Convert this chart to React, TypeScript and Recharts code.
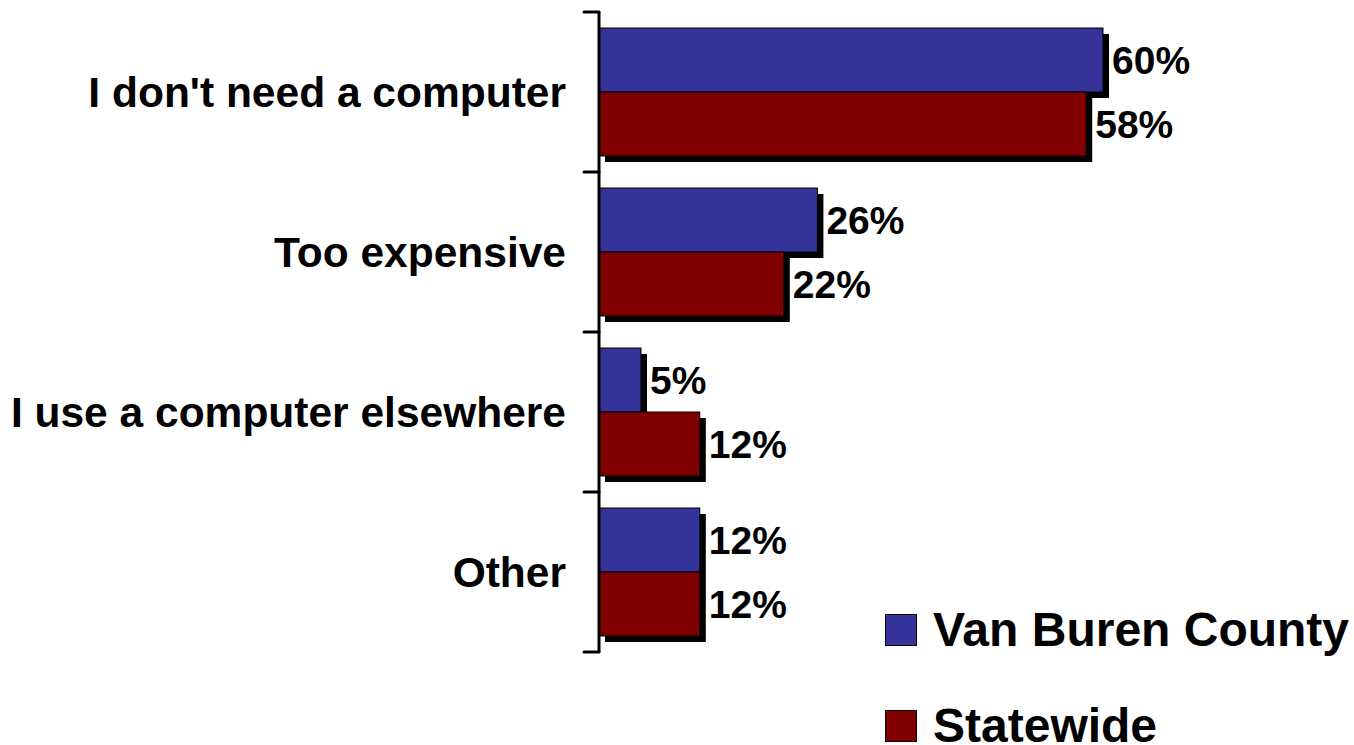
import { BarChart, Bar, XAxis, YAxis, LabelList } from "recharts"

const categories = [
  "I don't need a computer",
  "Too expensive",
  "I use a computer elsewhere",
  "Other",
]
const vanBuren = [60, 26, 5, 12]
const statewide = [58, 22, 12, 12]

const seriesNames = ["Van Buren County", "Statewide"]
const seriesColors = ["#333399", "#800000"]

const data = categories.map((c, i) => ({
  reason: c,
  vanBuren: vanBuren[i],
  statewide: statewide[i],
}))

const FONT = "Arial, 'Liberation Sans', Helvetica, sans-serif"
const SHADOW = 6

const ShadowBar = (props: any) => {
  const { x, y, width, height, fill } = props
  if (!width || !height) return null
  return (
    <g>
      <rect x={x + SHADOW} y={y + SHADOW} width={width} height={height} fill="#000" />
      <rect x={x} y={y} width={width} height={height} fill={fill} stroke="#000" strokeWidth={1} />
    </g>
  )
}

const CategoryTick = (props: any) => {
  const { x, y, payload, index, visibleTicksCount } = props
  const half = payload?.offset ?? 80
  const last = index === (visibleTicksCount ?? categories.length) - 1
  return (
    <g>
      <line x1={x - 15} y1={y - half} x2={x} y2={y - half} stroke="#000" strokeWidth={3} strokeLinecap="round" />
      {last && (
        <line x1={x - 15} y1={y + half} x2={x} y2={y + half} stroke="#000" strokeWidth={3} strokeLinecap="round" />
      )}
      <text
        x={x - 33}
        y={y}
        dy="0.355em"
        textAnchor="end"
        fill="#000"
        fontFamily={FONT}
        fontWeight="bold"
        fontSize={42.5}
      >
        {payload.value}
      </text>
    </g>
  )
}

const LegendBox = () => (
  <div
    style={{
      position: "absolute",
      left: 885,
      top: 600,
      fontFamily: FONT,
      fontWeight: "bold",
      fontSize: 48,
      lineHeight: 0.75,
    }}
  >
    {seriesNames.map((name, i) => (
      <div key={name} style={{ display: "flex", alignItems: "center", height: 60, marginBottom: i === 0 ? 36 : 0 }}>
        <div
          style={{
            width: 30,
            height: 30,
            background: seriesColors[i],
            border: "1px solid #000",
            marginRight: 16,
          }}
        />
        <span style={{ color: "#000", whiteSpace: "nowrap" }}>{name}</span>
      </div>
    ))}
  </div>
)

export default function App() {
  return (
    <div style={{ position: "absolute", left: 0, top: 0, width: 1354, height: 745, background: "#fff" }}>
      <BarChart
        width={1354}
        height={745}
        data={data}
        layout="vertical"
        margin={{ top: 12, right: 167, bottom: 93, left: 0 }}
        barCategoryGap="10%"
        barGap={0}
      >
        <XAxis type="number" domain={[0, 70]} hide />
        <YAxis
          type="category"
          dataKey="reason"
          width={599}
          tickSize={0}
          tickMargin={0}
          tickLine={false}
          axisLine={{ stroke: "#000", strokeWidth: 3 }}
          tick={<CategoryTick />}
          interval={0}
        />
        <Bar dataKey="vanBuren" name={seriesNames[0]} fill={seriesColors[0]} shape={<ShadowBar />} isAnimationActive={false}>
          <LabelList
            dataKey="vanBuren"
            position="right"
            offset={9}
            formatter={(v: any) => `${v}%`}
            fill="#000"
            fontFamily={FONT}
            fontWeight="bold"
            fontSize={39}
          />
        </Bar>
        <Bar dataKey="statewide" name={seriesNames[1]} fill={seriesColors[1]} shape={<ShadowBar />} isAnimationActive={false}>
          <LabelList
            dataKey="statewide"
            position="right"
            offset={9}
            formatter={(v: any) => `${v}%`}
            fill="#000"
            fontFamily={FONT}
            fontWeight="bold"
            fontSize={39}
          />
        </Bar>
      </BarChart>
      <LegendBox />
    </div>
  )
}
